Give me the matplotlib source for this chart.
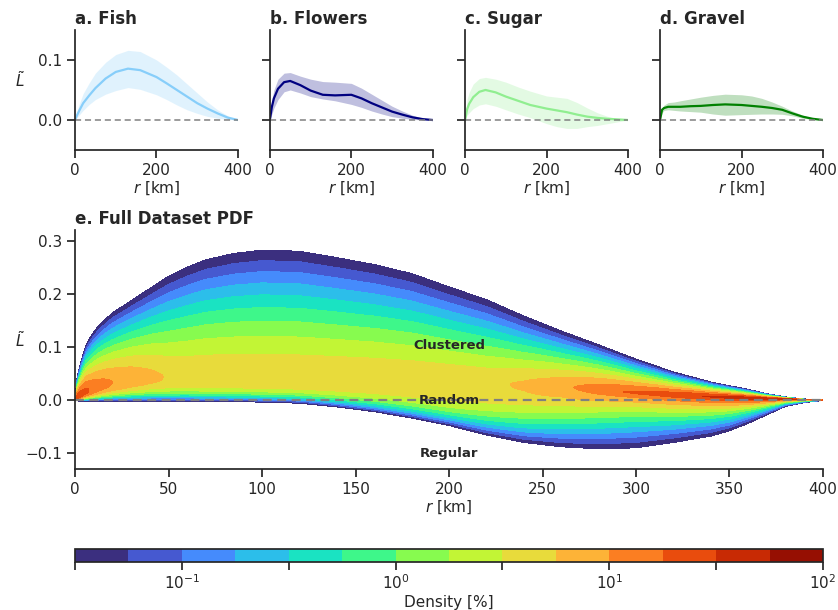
import matplotlib
matplotlib.use("Agg")
import matplotlib.pyplot as plt
import numpy as np

# ─── data: small panels (mean curve and spread band) ─────────────────────

r_top = [0, 5, 10, 20, 35, 50, 75, 100, 130, 160, 200, 225, 250, 275, 300, 325, 350, 375, 400]

fish_mean = [0, 0.008, 0.015, 0.028, 0.041, 0.053, 0.069, 0.080, 0.0855, 0.083,
             0.0715, 0.061, 0.050, 0.039, 0.028, 0.019, 0.011, 0.004, 0]
fish_hi = [0, 0.015, 0.026, 0.044, 0.062, 0.078, 0.096, 0.109, 0.116, 0.114,
           0.100, 0.088, 0.075, 0.060, 0.045, 0.030, 0.017, 0.007, 0]
fish_lo = [0, 0.004, 0.008, 0.016, 0.026, 0.034, 0.043, 0.049, 0.054, 0.051,
           0.042, 0.034, 0.025, 0.017, 0.011, 0.006, 0.003, 0.001, 0]

flowers_mean = [0, 0.022, 0.036, 0.052, 0.063, 0.065, 0.058, 0.049, 0.042, 0.041,
                0.042, 0.036, 0.028, 0.021, 0.014, 0.009, 0.0045, 0.0015, 0]
flowers_hi = [0, 0.035, 0.050, 0.068, 0.078, 0.079, 0.073, 0.068, 0.064, 0.063,
              0.061, 0.053, 0.043, 0.033, 0.023, 0.015, 0.008, 0.003, 0]
flowers_lo = [0, 0.010, 0.020, 0.034, 0.047, 0.050, 0.045, 0.039, 0.035, 0.032,
              0.026, 0.021, 0.015, 0.010, 0.0056, 0.003, 0.001, 0.0003, 0]

sugar_mean = [0, 0.018, 0.027, 0.038, 0.047, 0.050, 0.046, 0.039, 0.032, 0.025,
              0.019, 0.016, 0.013, 0.009, 0.0056, 0.0035, 0.002, 0.001, 0]
sugar_hi = [0, 0.035, 0.046, 0.060, 0.069, 0.071, 0.068, 0.063, 0.055, 0.048,
            0.040, 0.038, 0.036, 0.029, 0.020, 0.012, 0.006, 0.002, 0]
sugar_lo = [0, 0.008, 0.012, 0.019, 0.025, 0.027, 0.023, 0.017, 0.010, 0.004,
            -0.006, -0.011, -0.014, -0.014, -0.011, -0.009, -0.006, -0.003, 0]

gravel_mean = [0, 0.017, 0.020, 0.022, 0.022, 0.022, 0.023, 0.0235, 0.025, 0.026,
               0.025, 0.0235, 0.022, 0.020, 0.017, 0.011, 0.0056, 0.002, 0]
gravel_hi = [0, 0.020, 0.025, 0.029, 0.030, 0.032, 0.035, 0.038, 0.041, 0.043,
             0.042, 0.040, 0.036, 0.030, 0.023, 0.015, 0.008, 0.003, 0]
gravel_lo = [0, 0.012, 0.016, 0.017, 0.016, 0.015, 0.014, 0.013, 0.010, 0.008,
             0.009, 0.0095, 0.010, 0.010, 0.0095, 0.007, 0.003, 0.001, 0]

panels = [
    ("a. Fish", "lightskyblue", fish_mean, fish_lo, fish_hi),
    ("b. Flowers", "navy", flowers_mean, flowers_lo, flowers_hi),
    ("c. Sugar", "lightgreen", sugar_mean, sugar_lo, sugar_hi),
    ("d. Gravel", "green", gravel_mean, gravel_lo, gravel_hi),
]

# ─── data: full dataset PDF, per r column ────────────────────────────────
# mode = most likely L~, upper/lower = outermost extent of the PDF,
# peak = density at the mode [%], low_shape = sharpness of the lower flank

r_pdf = [0, 1, 2, 3, 4.5, 6, 8, 10, 12.5, 15, 20, 30, 40, 50, 60, 70, 85, 100, 120, 140,
         160, 180, 200, 220, 240, 260, 280, 300, 320, 340, 350, 360, 370, 380, 390, 400]
pdf_mode = [0.001, 0.004, 0.007, 0.010, 0.014, 0.017, 0.020, 0.023, 0.027, 0.030, 0.035,
            0.042, 0.045, 0.045, 0.045, 0.045, 0.044, 0.043, 0.042, 0.041, 0.040, 0.038,
            0.035, 0.032, 0.030, 0.026, 0.019, 0.013, 0.009, 0.006, 0.0045, 0.0035, 0.0025,
            0.002, 0.001, 0.0]
pdf_upper = [0.003, 0.040, 0.057, 0.070, 0.088, 0.105, 0.117, 0.128, 0.139, 0.148, 0.164,
             0.187, 0.210, 0.233, 0.250, 0.264, 0.276, 0.282, 0.280, 0.268, 0.255, 0.238,
             0.213, 0.189, 0.158, 0.130, 0.104, 0.077, 0.053, 0.034, 0.027, 0.020, 0.012,
             0.006, 0.002, 0.001]
pdf_lower = [-0.001, -0.001, -0.002, -0.002, -0.002, -0.002, -0.002, -0.002, -0.002, -0.002,
             -0.002, -0.002, -0.002, -0.002, -0.002, -0.003, -0.003, -0.004, -0.006, -0.013,
             -0.022, -0.034, -0.048, -0.066, -0.080, -0.088, -0.092, -0.090, -0.080, -0.068,
             -0.058, -0.044, -0.028, -0.012, -0.005, -0.001]
pdf_peak = [30, 28, 26, 25, 22, 20, 17, 15, 13, 12, 10, 8, 6.5, 5.3, 5.0, 5.0, 5.0, 5.0,
            5.0, 5.0, 5.0, 5.0, 5.0, 5.0, 6.0, 8.5, 14, 20, 26, 34, 40, 45, 50, 50, 40, 30]
pdf_low_shape = [3.0] * 22 + [3.0, 2.5, 2.0, 1.5, 1.1, 0.9, 0.9, 0.9, 0.9, 0.9, 0.9, 0.9, 0.9, 0.9]
pdf_up_shape = 1.4

density_levels = np.arange(-1.5, 2.01, 0.25)  # log10 of density [%]
density_colors = ["#3b2f7f", "#4659d0", "#458bfc", "#2cbeea", "#1ae3c2", "#3ef78a", "#87fb4f",
                  "#c2f535", "#e8db3b", "#fdb337", "#fb7e22", "#e94c0d", "#c82a04", "#960f02"]

# ─── style ───────────────────────────────────────────────────────────────

INK = "#262626"
plt.rcParams.update({
    "font.family": "DejaVu Sans",
    "font.size": 11,
    "axes.edgecolor": INK,
    "axes.labelcolor": INK,
    "text.color": INK,
    "xtick.color": INK,
    "ytick.color": INK,
    "axes.linewidth": 1.25,
    "xtick.major.width": 1.25,
    "ytick.major.width": 1.25,
    "xtick.major.size": 6,
    "ytick.major.size": 6,
    "axes.spines.top": False,
    "axes.spines.right": False,
})

fig = plt.figure(figsize=(8.38, 6.10), dpi=100)

# ─── top row ─────────────────────────────────────────────────────────────

lefts = [0.0895, 0.322, 0.555, 0.7876]
for i, (title, color, mean, lo, hi) in enumerate(panels):
    ax = fig.add_axes([lefts[i], 0.754, 0.1945, 0.197])
    ax.fill_between(r_top, lo, hi, color=color, alpha=0.25, lw=0)
    ax.plot(r_top, mean, color=color, lw=1.6)
    ax.axhline(0, color="gray", ls=(0, (4, 2.5)), lw=1.1)
    ax.set_xlim(0, 400)
    ax.set_ylim(-0.05, 0.15)
    ax.set_xticks([0, 200, 400])
    ax.set_yticks([0.0, 0.1])
    ax.set_xlabel("$r$ [km]", labelpad=1)
    ax.set_title(title, loc="left", fontweight="bold", fontsize=12, pad=4)
    if i == 0:
        ax.set_ylabel(r"$\tilde{L}$", rotation=0, va="center", ha="center")
        ax.yaxis.set_label_coords(-0.34, 0.58)
    else:
        ax.set_yticklabels([])

# ─── full dataset PDF ────────────────────────────────────────────────────

ax = fig.add_axes([0.0895, 0.231, 0.8926, 0.392])

# spread the column profiles over a fine r grid so the contour edges stay smooth
r_fine = np.linspace(0, 400, 801)
mode = np.interp(r_fine, r_pdf, pdf_mode)
up = np.interp(r_fine, r_pdf, pdf_upper)
low = np.interp(r_fine, r_pdf, pdf_lower)
peak = np.interp(r_fine, r_pdf, np.log10(pdf_peak))
shape_low = np.interp(r_fine, r_pdf, pdf_low_shape)

L_grid = np.linspace(-0.13, 0.32, 901)
R, LL = np.meshgrid(r_fine, L_grid)

d = LL - mode
t = np.where(d >= 0, d / (up - mode), -d / (mode - low))
p = np.where(d >= 0, pdf_up_shape, shape_low)
log_dens = peak - (peak - density_levels[0]) * np.clip(t, 0, 5) ** p

cf = ax.contourf(R, LL, log_dens, levels=density_levels, colors=density_colors)
ax.axhline(0, color="gray", ls=(0, (4, 2.5)), lw=1.6)

ax.text(200, 0.103, "Clustered", ha="center", va="center", fontweight="bold", fontsize=9.5)
ax.text(200, 0.0, "Random", ha="center", va="center", fontweight="bold", fontsize=9.5)
ax.text(200, -0.1, "Regular", ha="center", va="center", fontweight="bold", fontsize=9.5)

ax.set_xlim(0, 400)
ax.set_ylim(-0.13, 0.32)
ax.set_xticks(np.arange(0, 401, 50))
ax.set_yticks([-0.1, 0.0, 0.1, 0.2, 0.3])
ax.set_xlabel("$r$ [km]", labelpad=1)
ax.set_ylabel(r"$\tilde{L}$", rotation=0, va="center", ha="center")
ax.yaxis.set_label_coords(-0.0735, 0.54)
ax.set_title("e. Full Dataset PDF", loc="left", fontweight="bold", fontsize=12, pad=4)

# ─── colorbar ────────────────────────────────────────────────────────────

cax = fig.add_axes([0.0895, 0.0787, 0.8926, 0.0213])
cb = fig.colorbar(cf, cax=cax, orientation="horizontal")
cb.set_ticks(np.arange(-1.5, 2.01, 0.5))
cb.set_ticklabels(["", "$10^{-1}$", "", "$10^{0}$", "", "$10^{1}$", "", "$10^{2}$"])
cax.tick_params(length=6, width=1.25, pad=2)
cb.outline.set_linewidth(1.25)
cb.set_label("Density [%]", labelpad=2)

fig.savefig("out.png", dpi=100)
